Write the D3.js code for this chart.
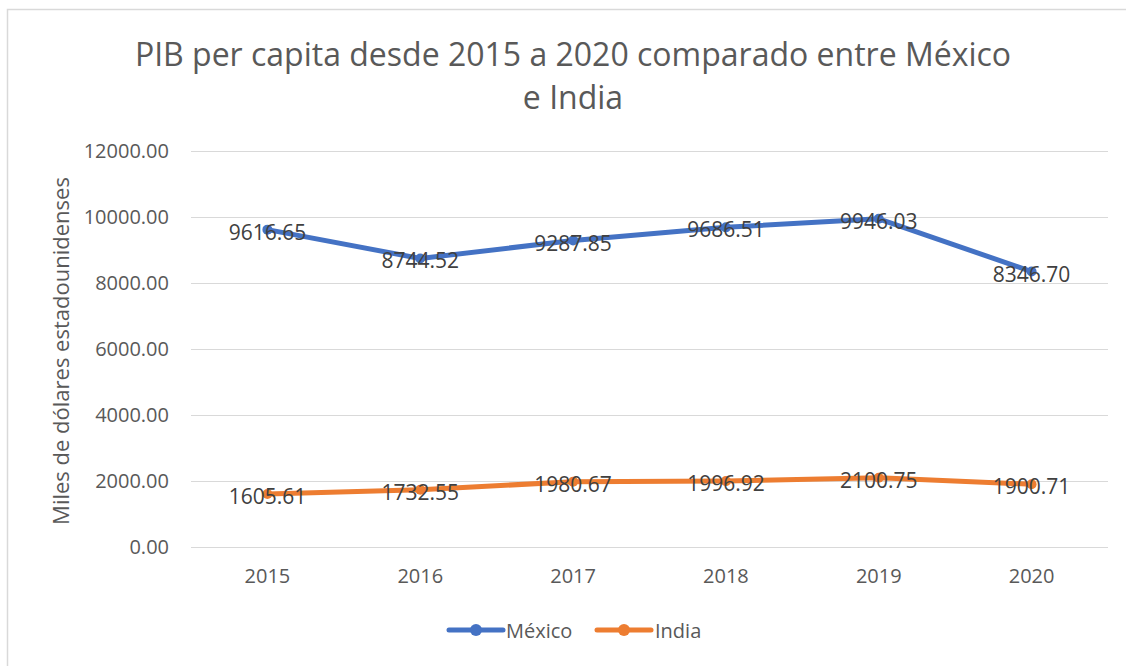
<!DOCTYPE html>
<html>
<head>
<meta charset="utf-8">
<script src="https://cdn.jsdelivr.net/npm/d3@7/dist/d3.min.js"></script>
<style>
    html, body { margin: 0; padding: 0; background: #fff; }
    svg { display: block; font-family: "Open Sans", "Noto Sans", sans-serif; }
</style>
</head>
<body>
<svg id="chart" width="1126" height="666"></svg>
<script>
const years = ['2015', '2016', '2017', '2018', '2019', '2020'];
const mexico = [9616.65, 8744.52, 9287.85, 9686.51, 9946.03, 8346.70];
const india = [1605.61, 1732.55, 1980.67, 1996.92, 2100.75, 1900.71];
const yTicks = [0, 2000, 4000, 6000, 8000, 10000, 12000];
const seriesNames = ['México', 'India'];
const seriesColors = ['#4472C4', '#ED7D31'];

const svg = d3.select('#chart');
const textColor = '#595959';
const labelColor = '#404040';
const gridColor = '#d9d9d9';

// chart frame (right/bottom edges fall outside the picture)
svg.append('rect')
    .attr('x', 7.5).attr('y', 9.5)
    .attr('width', 1140).attr('height', 680)
    .attr('fill', 'none')
    .attr('stroke', '#d9d9d9')
    .attr('stroke-width', 1.5);

const plot = { left: 191, right: 1108, top: 151, bottom: 547 };

const x = d3.scaleBand()
    .domain(years)
    .range([plot.left, plot.right]);

const y = d3.scaleLinear()
    .domain([0, 12000])
    .range([plot.bottom, plot.top]);

// title
const title = svg.append('text')
    .attr('text-anchor', 'middle')
    .style('fill', textColor)
    .style('font-size', '32px');
title.append('tspan').attr('x', 573).attr('y', 66)
    .text('PIB per capita desde 2015 a 2020 comparado entre México');
title.append('tspan').attr('x', 573).attr('y', 109)
    .text('e India');

// gridlines
svg.append('g')
    .selectAll('line')
    .data(yTicks)
    .join('line')
    .attr('x1', plot.left).attr('x2', plot.right)
    .attr('y1', d => y(d) + 0.5).attr('y2', d => y(d) + 0.5)
    .attr('stroke', gridColor)
    .attr('stroke-width', 1.2);

// y axis labels
const yAxis = svg.append('g')
    .attr('transform', `translate(${plot.left - 22},0)`)
    .call(d3.axisLeft(y).tickValues(yTicks).tickFormat(d3.format('.2f')).tickSize(0).tickPadding(0));
yAxis.select('.domain').remove();
yAxis.selectAll('text')
    .style('fill', textColor)
    .style('font-size', '20px')
    .style('font-family', '"Open Sans", "Noto Sans", sans-serif');

// x axis labels
const xAxis = svg.append('g')
    .attr('transform', `translate(0,${plot.bottom + 22})`)
    .call(d3.axisBottom(x).tickSize(0).tickPadding(0));
xAxis.select('.domain').remove();
xAxis.selectAll('text')
    .style('fill', textColor)
    .style('font-size', '20px')
    .style('font-family', '"Open Sans", "Noto Sans", sans-serif');

// y axis title
svg.append('text')
    .attr('transform', `translate(60,${(plot.top + plot.bottom) / 2 + 2}) rotate(-90)`)
    .attr('text-anchor', 'middle')
    .attr('dominant-baseline', 'central')
    .style('fill', textColor)
    .style('font-size', '22px')
    .text('Miles de dólares estadounidenses');

const line = d3.line()
    .x((d, i) => x(years[i]) + x.bandwidth() / 2)
    .y(d => y(d));

[mexico, india].forEach((values, s) => {
    const g = svg.append('g');
    g.append('path')
        .datum(values)
        .attr('d', line)
        .attr('fill', 'none')
        .attr('stroke', seriesColors[s])
        .attr('stroke-width', 5)
        .attr('stroke-linejoin', 'round')
        .attr('stroke-linecap', 'round');

    g.selectAll('circle')
        .data(values)
        .join('circle')
        .attr('cx', (d, i) => x(years[i]) + x.bandwidth() / 2)
        .attr('cy', d => y(d))
        .attr('r', 5)
        .attr('fill', seriesColors[s]);

    g.selectAll('text')
        .data(values)
        .join('text')
        .attr('x', (d, i) => x(years[i]) + x.bandwidth() / 2)
        .attr('y', d => y(d) + 2)
        .attr('text-anchor', 'middle')
        .attr('dominant-baseline', 'central')
        .style('fill', labelColor)
        .style('font-size', '21px')
        .text(d => d.toFixed(2));
});

// legend
const legendItems = [
    { x: 449, textX: 506 },
    { x: 597, textX: 655 }
];
legendItems.forEach((item, s) => {
    const lg = svg.append('g');
    lg.append('line')
        .attr('x1', item.x).attr('x2', item.x + 54)
        .attr('y1', 630).attr('y2', 630)
        .attr('stroke', seriesColors[s])
        .attr('stroke-width', 5)
        .attr('stroke-linecap', 'round');
    lg.append('circle')
        .attr('cx', item.x + 27).attr('cy', 630)
        .attr('r', 6)
        .attr('fill', seriesColors[s]);
    lg.append('text')
        .attr('x', item.textX).attr('y', 630)
        .attr('dominant-baseline', 'central')
        .style('fill', textColor)
        .style('font-size', '20px')
        .text(seriesNames[s]);
});
</script>
</body>
</html>
